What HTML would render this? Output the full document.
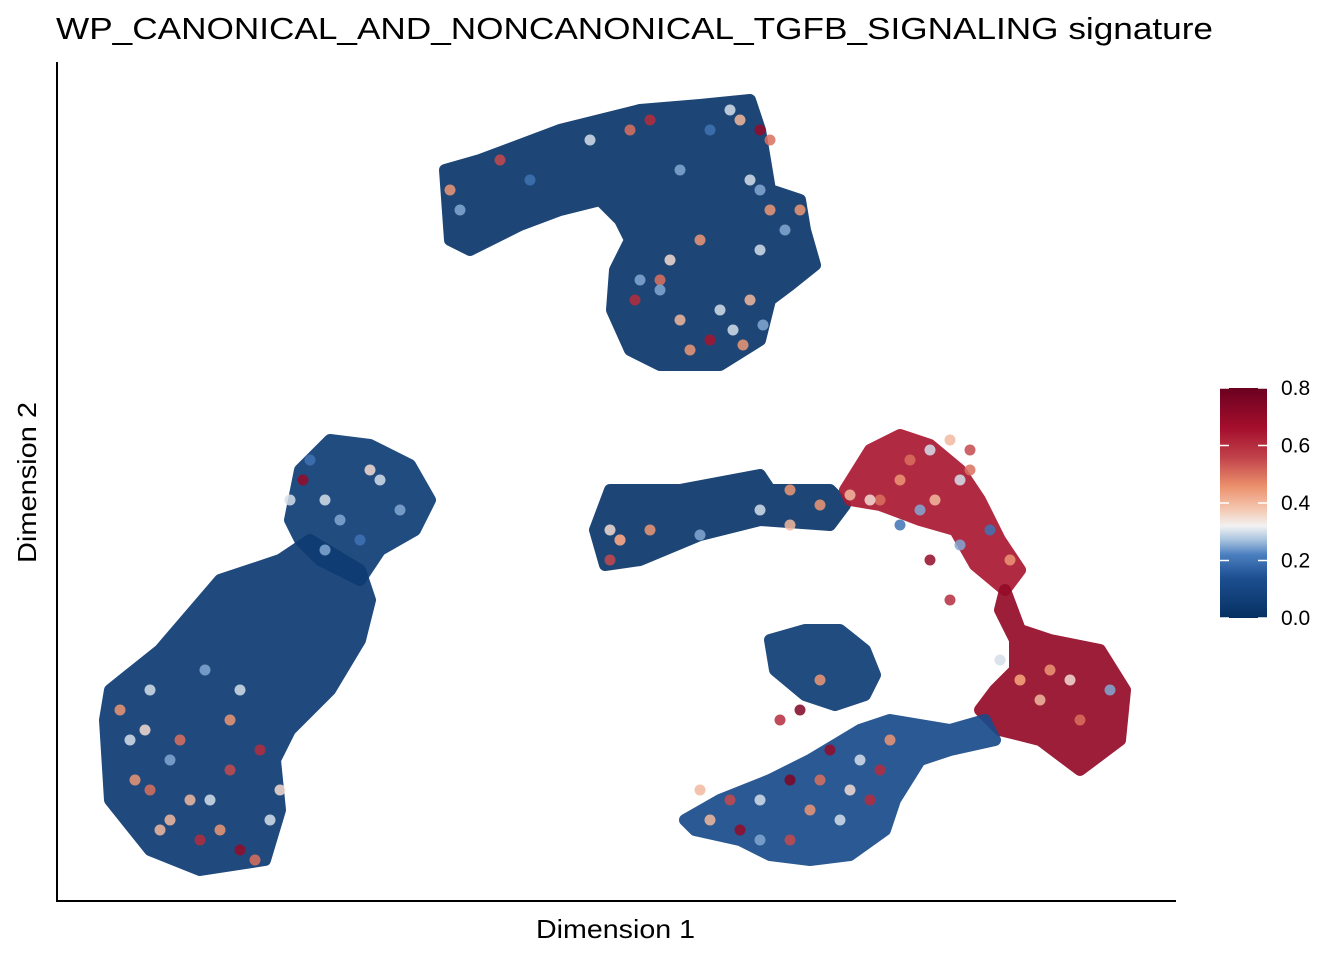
<!DOCTYPE html>
<html><head><meta charset="utf-8"><style>
body{margin:0;background:#fff;width:1344px;height:960px;overflow:hidden;font-family:"Liberation Sans",Arial,sans-serif}
</style></head><body>
<svg id="chart" width="1344" height="960" xmlns="http://www.w3.org/2000/svg">
<defs>
<linearGradient id="cbar" x1="0" y1="1" x2="0" y2="0">
<stop offset="0" stop-color="#053061"/><stop offset="0.175" stop-color="#1d4f91"/><stop offset="0.275" stop-color="#4a7fbf"/><stop offset="0.34" stop-color="#a9c3df"/><stop offset="0.4" stop-color="#f2f2f2"/><stop offset="0.475" stop-color="#f4c6b0"/><stop offset="0.575" stop-color="#eb8f6b"/><stop offset="0.7" stop-color="#c0414a"/><stop offset="0.825" stop-color="#a50f2d"/><stop offset="1" stop-color="#6b0020"/>
</linearGradient>
</defs>
<text x="56" y="39" font-size="31" textLength="1157" lengthAdjust="spacingAndGlyphs" fill="#000">WP_CANONICAL_AND_NONCANONICAL_TGFB_SIGNALING signature</text>
<g id="blobs"></g><g id="pts"></g>
<line x1="57" y1="62" x2="57" y2="902" stroke="#000" stroke-width="2"/>
<line x1="56" y1="901" x2="1176" y2="901" stroke="#000" stroke-width="2"/>
<text x="536" y="938" font-size="26" textLength="159" lengthAdjust="spacingAndGlyphs">Dimension 1</text>
<text transform="translate(36,563) rotate(-90)" font-size="26" textLength="161" lengthAdjust="spacingAndGlyphs">Dimension 2</text>
<g>
<rect x="1220" y="388" width="47" height="230" fill="url(#cbar)"/>
<g id="legticks"></g>
</g>
</svg>
<script>
const stops=[[0,'#053061'],[0.14,'#1d4f91'],[0.22,'#4a7fbf'],[0.27,'#a9c3df'],[0.32,'#f2f2f2'],[0.38,'#f4c6b0'],[0.46,'#eb8f6b'],[0.56,'#c0414a'],[0.66,'#a50f2d'],[0.8,'#6b0020']];
const legendTicks=[0,0.2,0.4,0.6,0.8];
const legendLabels=['0.0','0.2','0.4','0.6','0.8'];
// cluster outlines (UMAP units) and mean score
const blobValues=[0.03,0.06,0.05,0.03,0.64,0.7,0.12,0.06];
const blobOutlines=[
 [[388,731],[423,741],[503,771],[583,791],[643,796],[693,801],[703,771],[713,711],[743,701],[748,671],[758,636],[733,616],[713,601],[703,561],[663,536],[603,536],[573,551],[555,591],[558,631],[573,661],[563,681],[543,701],[503,691],[463,676],[413,651],[393,661]],
 [[233,381],[243,431],[273,461],[313,456],[353,436],[373,401],[358,371],[323,351],[303,321],[263,341],[243,361]],
 [[313,301],[303,261],[273,211],[233,171],[218,141],[223,91],[208,41],[143,31],[93,51],[53,101],[48,181],[53,211],[103,251],[163,321],[223,341],[253,361],[303,331]],
 [[538,371],[553,411],[623,411],[703,426],[713,411],[773,411],[788,396],[773,376],[703,381],[643,366],[583,341],[548,336]],
 [[788,411],[813,451],[843,466],[873,456],[903,431],[923,401],[943,361],[963,331],[948,311],[918,336],[898,371],[863,381],[823,396],[793,401]],
 [[948,311],[963,271],[993,261],[1043,251],[1068,211],[1063,161],[1023,131],[983,161],[943,171],[923,191],[938,211],[958,231],[958,261],[943,291]],
 [[628,81],[663,101],[713,121],[753,141],[803,171],[833,181],[863,176],[893,171],[928,181],[938,161],[893,151],[863,141],[838,101],[828,71],[793,46],[753,41],[713,46],[683,61],[638,71]],
 [[713,261],[718,231],[748,206],[778,196],[808,206],[818,226],[808,251],[783,271],[748,271]]
];
// individual highlighted cells
const ptX=[393,403,443,473,533,573,593,623,653,673,683,703,713,703,713,743,693,603,583,613,643,663,693,728,703,633,653,676,603,578,623,686,706,246,268,283,303,323,343,313,253,233,268,63,73,93,113,143,163,183,198,213,173,133,113,88,78,123,153,103,183,203,148,93,173,223,593,553,563,643,703,733,763,793,823,853,873,893,913,878,843,813,903,913,933,953,1013,1023,993,1053,983,963,943,963,643,673,703,733,753,783,793,823,833,773,763,733,703,683,653,803,813,763,743,723,553,563,863,903,843,873,733,893];
const ptY=[711,691,741,721,761,771,781,731,771,791,781,771,761,711,691,691,721,621,621,641,661,591,601,671,651,551,561,571,611,601,581,556,576,421,401,381,361,421,391,431,441,401,351,191,161,111,81,61,71,51,41,81,131,101,141,171,121,161,101,71,211,151,231,211,181,111,371,371,361,366,391,376,396,406,401,441,451,461,451,401,421,401,421,431,371,341,221,181,231,211,201,221,241,221,111,101,101,121,91,81,111,131,161,151,121,61,61,71,81,141,101,221,191,181,341,361,391,356,376,341,411,301];
const ptV=[0.45,0.25,0.55,0.2,0.3,0.5,0.6,0.25,0.2,0.3,0.4,0.7,0.5,0.25,0.45,0.45,0.3,0.5,0.25,0.35,0.45,0.3,0.4,0.25,0.3,0.45,0.65,0.3,0.25,0.6,0.4,0.45,0.25,0.7,0.3,0.25,0.2,0.3,0.25,0.35,0.2,0.3,0.25,0.45,0.3,0.5,0.4,0.6,0.45,0.7,0.5,0.3,0.55,0.4,0.25,0.35,0.45,0.5,0.3,0.4,0.3,0.6,0.25,0.3,0.45,0.35,0.45,0.35,0.3,0.25,0.3,0.4,0.45,0.4,0.5,0.5,0.3,0.4,0.55,0.4,0.45,0.35,0.3,0.5,0.2,0.45,0.35,0.5,0.45,0.25,0.4,0.45,0.3,0.45,0.4,0.55,0.3,0.75,0.45,0.3,0.35,0.6,0.45,0.7,0.5,0.55,0.25,0.7,0.4,0.3,0.6,0.45,0.75,0.6,0.55,0.45,0.25,0.25,0.2,0.7,0.45,0.6,0.65,0.35];
const X=d=>57+d, Y=d=>901-d;
function hex(c){return [1,3,5].map(i=>parseInt(c.substr(i,2),16));}
function color(v){v=Math.max(0,Math.min(0.8,v));for(let i=1;i<stops.length;i++){if(v<=stops[i][0]){const a=stops[i-1],b=stops[i],t=(v-a[0])/(b[0]-a[0]);const ca=hex(a[1]),cb=hex(b[1]);return 'rgb('+ca.map((x,k)=>Math.round(x+(cb[k]-x)*t)).join(',')+')';}}return stops[stops.length-1][1];}
const NS='http://www.w3.org/2000/svg';
const gb=document.getElementById('blobs');
blobOutlines.forEach((o,i)=>{
 const p=document.createElementNS(NS,'polygon');
 p.setAttribute('points',o.map(q=>X(q[0])+','+Y(q[1])).join(' '));
 const c=color(blobValues[i]);
 p.setAttribute('fill',c);p.setAttribute('stroke',c);p.setAttribute('stroke-width','12');p.setAttribute('stroke-linejoin','round');p.setAttribute('opacity','0.92');
 
 
 gb.appendChild(p);
});
const gp=document.getElementById('pts');
ptX.forEach((x,i)=>{
 const c=document.createElementNS(NS,'circle');
 c.setAttribute('cx',X(x));c.setAttribute('cy',Y(ptY[i]));c.setAttribute('r','5.5');c.setAttribute('fill',color(ptV[i]));c.setAttribute('opacity','0.85');
 
 
 gp.appendChild(c);
});
const gl=document.getElementById('legticks');
const LY=v=>618-v/0.8*230;
legendTicks.forEach((v,i)=>{
 const y=LY(v);
 const t=document.createElementNS(NS,'text');
 t.setAttribute('x',1281);t.setAttribute('y',y+7);t.setAttribute('font-size','21');t.textContent=legendLabels[i];
 
 
 gl.appendChild(t);
 [[1220,1229],[1258,1267]].forEach(s=>{const l=document.createElementNS(NS,'line');l.setAttribute('x1',s[0]);l.setAttribute('x2',s[1]);l.setAttribute('y1',y);l.setAttribute('y2',y);l.setAttribute('stroke','#fff');l.setAttribute('stroke-width','1.5');
 
 
 gl.appendChild(l);});
});
</script>
</body></html>
